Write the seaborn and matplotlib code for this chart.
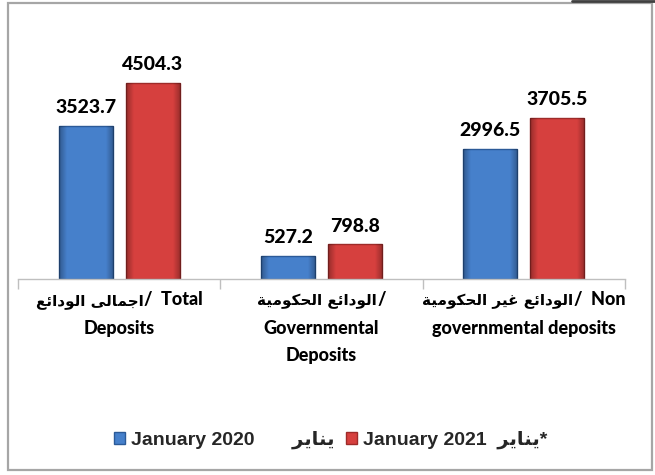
import matplotlib
matplotlib.use("Agg")
import matplotlib.pyplot as plt
import matplotlib.patches as mpatches
import matplotlib.lines as mlines
from matplotlib.offsetbox import TextArea, HPacker, VPacker, AnnotationBbox
import numpy as np
import seaborn as sns
import pandas as pd

# --- minimal Arabic shaping: logical text -> presentation forms in visual order ---
_FORMS = {
    # letter: (isolated, final, initial, medial); None for right-joining letters
    "\u0627": ("\uFE8D", "\uFE8E", None, None),
    "\u062C": ("\uFE9D", "\uFE9E", "\uFE9F", "\uFEA0"),
    "\u0645": ("\uFEE1", "\uFEE2", "\uFEE3", "\uFEE4"),
    "\u0644": ("\uFEDD", "\uFEDE", "\uFEDF", "\uFEE0"),
    "\u0649": ("\uFEEF", "\uFEF0", None, None),
    "\u0648": ("\uFEED", "\uFEEE", None, None),
    "\u062F": ("\uFEA9", "\uFEAA", None, None),
    "\u0626": ("\uFE89", "\uFE8A", "\uFE8B", "\uFE8C"),
    "\u0639": ("\uFEC9", "\uFECA", "\uFECB", "\uFECC"),
    "\u062D": ("\uFEA1", "\uFEA2", "\uFEA3", "\uFEA4"),
    "\u0643": ("\uFED9", "\uFEDA", "\uFEDB", "\uFEDC"),
    "\u064A": ("\uFEF1", "\uFEF2", "\uFEF3", "\uFEF4"),
    "\u0629": ("\uFE93", "\uFE94", None, None),
    "\u063A": ("\uFECD", "\uFECE", "\uFECF", "\uFED0"),
    "\u0631": ("\uFEAD", "\uFEAE", None, None),
    "\u0646": ("\uFEE5", "\uFEE6", "\uFEE7", "\uFEE8"),
}


def _dual(ch):
    return ch in _FORMS and _FORMS[ch][2] is not None


def ar(text):
    out = []
    for i, ch in enumerate(text):
        if ch not in _FORMS:
            out.append(ch)
            continue
        prev = text[i - 1] if i > 0 else ""
        nxt = text[i + 1] if i + 1 < len(text) else ""
        join_prev = _dual(prev)
        join_next = _dual(ch) and nxt in _FORMS
        iso, fin, ini, med = _FORMS[ch]
        if join_prev and join_next:
            out.append(med)
        elif join_prev:
            out.append(fin)
        elif join_next:
            out.append(ini)
        else:
            out.append(iso)
    return "".join(out)[::-1]


# --- data ---
categories = ["Total Deposits", "Governmental Deposits", "Non governmental deposits"]
# category labels: (arabic part, english on first line, following lines)
labels_ar = ["اجمالى الودائع", "الودائع الحكومية", "الودائع غير الحكومية"]
labels_en_first = ["/  Total", "/", "/  Non"]
labels_en_rest = [["Deposits"], ["Governmental", "Deposits"], ["governmental deposits"]]

periods = [
    "January 2020       " + ar("يناير"),
    "January 2021  " + ar("يناير") + "*",
]
values_2020 = [3523.7, 527.2, 2996.5]
values_2021 = [4504.3, 798.8, 3705.5]

df = pd.DataFrame({
    "category": categories * 2,
    "period": [periods[0]] * 3 + [periods[1]] * 3,
    "value": values_2020 + values_2021,
})

sns.set_theme(style="white")
FONT = ["Lato", "DejaVu Sans"]
LEGEND_FONT = ["Liberation Sans", "DejaVu Sans"]
plt.rcParams["font.family"] = FONT
plt.rcParams["font.weight"] = "bold"

colors = ["#4680CB", "#D6403E"]
edges = ["#2B5A98", "#9E2B29"]

fig = plt.figure(figsize=(6.55, 4.75), dpi=100)
ax = fig.add_axes([18 / 655, 1 - 279 / 475, 607 / 655, 261 / 475])

sns.barplot(data=df, x="category", y="value", hue="period",
            hue_order=periods, palette=colors, saturation=1,
            width=0.662, gap=0.19, ax=ax, legend=True)

# bevel-like shading: darker towards the left/right edges of each bar
t = np.linspace(0, 1, 80)
edge_alpha = np.clip(1 - np.minimum(t, 1 - t) / 0.14, 0, 1) * 0.30
overlay = np.zeros((1, t.size, 4))
overlay[0, :, 3] = edge_alpha
for cont, ec in zip(ax.containers, edges):
    for bar in cont:
        bar.set_edgecolor(ec)
        bar.set_linewidth(1.0)
        x0, y0 = bar.get_x(), bar.get_y()
        w, h = bar.get_width(), bar.get_height()
        img = ax.imshow(overlay, extent=(x0, x0 + w, y0, y0 + h), aspect="auto",
                        zorder=bar.get_zorder() + 0.1, interpolation="bilinear")
        img.set_clip_path(bar)
    ax.bar_label(cont, fmt="%.1f", padding=7, fontsize=14,
                 fontweight="black", color="black", family=FONT)

ax.set_ylim(0, 6000)
ax.set_xlim(-0.5, 2.5)
ax.set_xlabel("")
ax.set_ylabel("")
ax.set_yticks([])
for side in ["left", "right", "top"]:
    ax.spines[side].set_visible(False)
ax.spines["bottom"].set_color("#BFBFBF")
ax.spines["bottom"].set_linewidth(1.0)

ax.set_xticks([0, 1, 2])
ax.set_xticklabels([])
ax.tick_params(axis="x", which="major", length=0)
ax.set_xticks([-0.5, 0.5, 1.5, 2.5], minor=True)
ax.tick_params(axis="x", which="minor", length=7, width=1.0,
               color="#BFBFBF", direction="out", bottom=True)

# bilingual category labels under each group
en_props = dict(family=FONT, fontweight="black", fontsize=13, color="black")
ar_props = dict(family="DejaVu Sans", fontweight="bold", fontsize=11, color="black")
for i, (a, first, rest) in enumerate(zip(labels_ar, labels_en_first, labels_en_rest)):
    line1 = HPacker(children=[TextArea(ar(a), textprops=ar_props),
                              TextArea(first, textprops=en_props)],
                    align="baseline", pad=0, sep=0)
    lines = [line1] + [TextArea(s, textprops=en_props) for s in rest]
    box = VPacker(children=lines, align="center", pad=0, sep=7.5)
    ab = AnnotationBbox(box, (i, 0), xycoords=ax.get_xaxis_transform(),
                        xybox=(0, -9), boxcoords="offset points",
                        box_alignment=(0.5, 1.0), frameon=False, pad=0,
                        annotation_clip=False)
    ax.add_artist(ab)

ax.get_legend().remove()
handles = [mpatches.Patch(facecolor=c, edgecolor=e, linewidth=1.0)
           for c, e in zip(colors, edges)]
fig.legend(handles, periods, loc="center", bbox_to_anchor=(0.505, 1 - 440 / 475),
           ncol=2, frameon=False, handlelength=0.55, handleheight=0.55,
           handletextpad=0.3, columnspacing=0.6,
           prop={"family": LEGEND_FONT, "weight": "bold", "size": 14})

# outer frame
fig.patches.append(mpatches.Rectangle((8 / 655, 5 / 475), 644 / 655, 467 / 475,
                                      transform=fig.transFigure, fill=False,
                                      edgecolor="#A6A6A6", linewidth=1.6))
fig.lines.append(mlines.Line2D([572 / 655, 1.0], [1 - 1 / 475, 1 - 1 / 475],
                               transform=fig.transFigure, color="#404040",
                               linewidth=2))

fig.savefig("out.png", dpi=100, facecolor="white")
